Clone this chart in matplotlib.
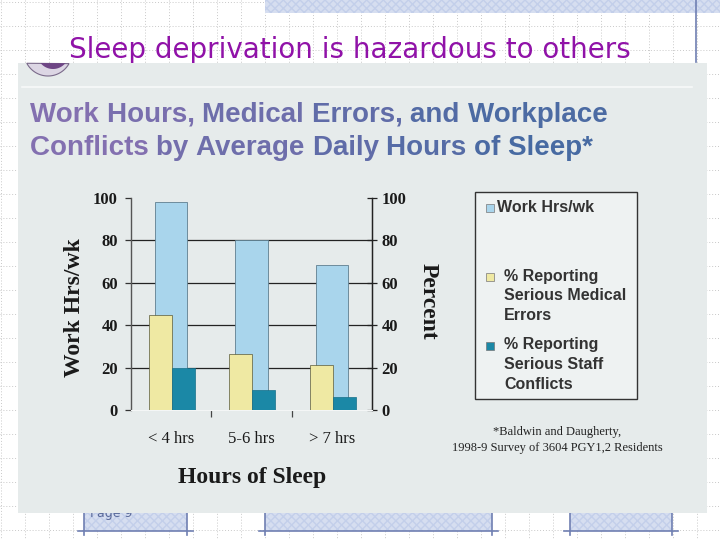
import numpy as np
import matplotlib
matplotlib.use("Agg")
import matplotlib.pyplot as plt
from matplotlib.patches import Rectangle, Polygon
from matplotlib.colors import to_rgb

# ---- data ----
categories = ["< 4 hrs", "5-6 hrs", "> 7 hrs"]
work_hrs = [98, 80, 68.5]
med_errors = [45, 26.5, 21]
staff_conflicts = [20, 9.5, 6]
series_names = ["Work Hrs/wk", "% Reporting\nSerious Medical\nErrors", "% Reporting\nSerious Staff\nConflicts"]
yticks = [0, 20, 40, 60, 80, 100]
title_lines = ["Work Hours, Medical Errors, and Workplace", "Conflicts by Average Daily Hours of Sleep*"]

c_blue = "#A9D5EC"
c_yellow = "#EFE9A3"
c_teal = "#1B88A6"

W, H = 720, 540
fig = plt.figure(figsize=(7.2, 5.4), dpi=100)
fig.patch.set_facecolor("white")

bg = fig.add_axes([0, 0, 1, 1])
bg.set_xlim(0, W)
bg.set_ylim(H, 0)
bg.axis("off")

# dotted slide grid
for xg in np.arange(1, W, 24):
    bg.plot([xg, xg], [0, H], ls=(0, (1, 2)), color="#C9C9C9", lw=0.7, zorder=0)
for yg in np.arange(530, 0, -24):
    bg.plot([0, W], [yg, yg], ls=(0, (1, 2)), color="#C9C9C9", lw=0.7, zorder=0)

# top hatched band and vertical line
bg.add_patch(Rectangle((265, 0), W - 265, 13, facecolor="#D6DEF0", edgecolor="#C3CFEA",
                       hatch="xxxx", lw=0, zorder=1))
bg.plot([696, 696], [0, 62], color="#6F7FB2", lw=1.2, zorder=2)

# bottom footer boxes
for x0, x1 in [(84, 187), (265, 492), (570, 672)]:
    bg.add_patch(Rectangle((x0, 505), x1 - x0, 26, facecolor="#D6DEF0", edgecolor="#C3CFEA",
                           hatch="xxxx", lw=0, zorder=1))
    bg.plot([x0 - 6, x1 + 6], [531, 531], color="#6F7FB2", lw=1.2, zorder=2)
    bg.plot([x0, x0], [505, 535], color="#6F7FB2", lw=1.2, zorder=2)
    bg.plot([x1, x1], [505, 535], color="#6F7FB2", lw=1.2, zorder=2)
bg.text(90, 514, "Page 9", fontsize=9, color="#5A6A9A", ha="left", va="center", zorder=2)

# slide title
bg.text(350, 50, "Sleep deprivation is hazardous to others", fontsize=20, color="#9012A8",
        ha="center", va="center", family="DejaVu Sans", zorder=3)

# scanned chart region
bg.add_patch(Rectangle((18, 63), 689, 450, facecolor="#E6EBEB", edgecolor="none", zorder=4))
bg.plot([22, 692], [87, 87], color="#F7F9F9", lw=1.2, zorder=5)


def lower_cap(cx, cy, r, ytop):
    th = np.linspace(0, 2 * np.pi, 200)
    px, py = cx + r * np.cos(th), cy + r * np.sin(th)
    m = py >= ytop
    pts = np.column_stack([px[m], py[m]])
    pts = pts[np.argsort(np.arctan2(pts[:, 1] - cy, pts[:, 0] - cx))]
    return pts


# partially hidden logo (only the lower part shows inside the scan)
bg.add_patch(Polygon(lower_cap(48, 52, 24, 63), closed=True, facecolor="#DCD6E4",
                     edgecolor="#7A6A8A", lw=0.8, zorder=5))
bg.add_patch(Polygon(lower_cap(53, 53, 16, 63), closed=True, facecolor="#6E4585",
                     edgecolor="none", zorder=5))

# chart title: colour shifts from lavender to steel blue, word by word
fig.canvas.draw()
renderer = fig.canvas.get_renderer()
c0 = np.array(to_rgb("#8370B0"))
c1 = np.array(to_rgb("#3D69A0"))
inv = bg.transData.inverted()
for line, ty in zip(title_lines, [115, 148]):
    words = line.split(" ")
    xcur = 30.0
    for w in words:
        frac = min(1.0, (xcur - 30) / 560.0)
        col = c0 * (1 - frac) + c1 * frac
        t = bg.text(xcur, ty, w + " ", fontsize=20, fontweight="bold", color=col,
                    family="Liberation Sans", ha="left", va="center", zorder=6)
        bb = t.get_window_extent(renderer=renderer)
        xcur = inv.transform((bb.x1, bb.y0))[0]

# axis labels
bg.text(75, 308, "Work Hrs/wk", rotation=90, fontsize=17, fontweight="bold", family="Liberation Serif",
        color="#1A1A1A", ha="center", va="center", zorder=6)
bg.text(428, 301, "Percent", rotation=270, fontsize=17, fontweight="bold", family="Liberation Serif",
        color="#1A1A1A", ha="center", va="center", zorder=6)
bg.text(252, 477, "Hours of Sleep", fontsize=17, fontweight="bold", family="Liberation Serif",
        color="#1A1A1A", ha="center", va="center", zorder=6)

# footnote
bg.text(557, 432, "*Baldwin and Daugherty,", fontsize=9, family="Liberation Serif",
        color="#222222", ha="center", va="center", zorder=6)
bg.text(557, 448, "1998-9 Survey of 3604 PGY1,2 Residents", fontsize=9, family="Liberation Serif",
        color="#222222", ha="center", va="center", zorder=6)

# legend box (drawn manually to mimic the scanned layout)
bg.add_patch(Rectangle((475, 192), 162, 207, facecolor="#EEF2F2", edgecolor="#333333", lw=1.0, zorder=6))
leg_items = [(c_blue, series_names[0], 208, 497), (c_yellow, series_names[1], 277, 504),
             (c_teal, series_names[2], 346, 504)]
for col, lab, yy, tx in leg_items:
    bg.add_patch(Rectangle((486, yy - 4), 8, 8, facecolor=col, edgecolor="#777777", lw=0.5, zorder=7))
    bg.text(tx, yy - 8.5, lab, fontsize=11.5, fontweight="bold", family="Liberation Sans", color="#333333",
            ha="left", va="top", linespacing=1.4, zorder=7)

# ---- main chart axes ----
ax = fig.add_axes([131 / W, (H - 410) / H, 241 / W, 212 / H])
ax.set_zorder(10)
ax.patch.set_alpha(0)
x = np.arange(len(categories)) + 0.5
ax.bar(x, work_hrs, width=0.40, color=c_blue, edgecolor="#5F7F90", lw=0.6, zorder=2)
ax.bar(x - 0.132, med_errors, width=0.287, color=c_yellow, edgecolor="#5A5A3A", lw=0.5, zorder=3)
ax.bar(x + 0.154, staff_conflicts, width=0.286, color=c_teal, edgecolor="#16708A", lw=0.5, zorder=3)

ax.set_xlim(0, 3)
ax.set_ylim(0, 100)
ax.set_yticks(yticks)
ax.set_yticklabels([str(t) for t in yticks], fontsize=12, fontweight="bold", family="Liberation Serif",
                   color="#1A1A1A")
for t in yticks[1:-1]:
    ax.axhline(t, color="#222222", lw=0.9, zorder=1)
ax.tick_params(axis="y", direction="out", length=4.5, width=0.9, color="#333333", pad=5)

ax.set_xticks(x)
ax.set_xticklabels(categories, fontsize=12, family="Liberation Serif", color="#1A1A1A")
ax.tick_params(axis="x", length=0, pad=15)
ax.set_xticks([1, 2], minor=True)
ax.tick_params(axis="x", which="minor", length=5, width=0.9, color="#444444", direction="out")

ax.spines["top"].set_visible(False)
ax.spines["left"].set_color("#555555")
ax.spines["right"].set_color("#222222")
ax.spines["bottom"].set_color("#F4F6F6")
ax.spines["left"].set_linewidth(1.0)
ax.spines["right"].set_linewidth(1.0)

sec = ax.secondary_yaxis("right")
sec.set_yticks(yticks)
sec.set_yticklabels([str(t) for t in yticks], fontsize=12, fontweight="bold", family="Liberation Serif",
                    color="#1A1A1A")
sec.tick_params(direction="inout", length=7.5, width=0.9, color="#222222", pad=3)
sec.spines["right"].set_color("#222222")

fig.savefig("out.png", dpi=100)
